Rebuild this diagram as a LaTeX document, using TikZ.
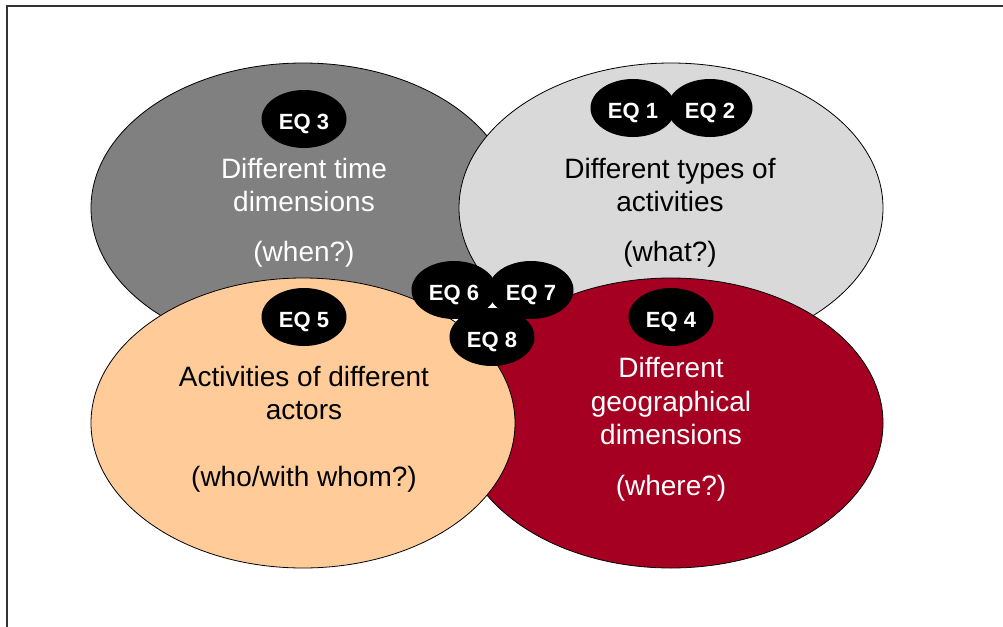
\documentclass[tikz,border=0pt]{standalone}
\usepackage{fontspec}
\setmainfont{Liberation Sans}
\usetikzlibrary{shapes.geometric}
\definecolor{timegrey}{HTML}{808080}
\definecolor{whatgrey}{HTML}{D9D9D9}
\definecolor{wherered}{HTML}{A50021}
\definecolor{whopeach}{HTML}{FFCC99}
\definecolor{framegrey}{HTML}{333333}
\begin{document}
\begin{tikzpicture}[x=1pt,y=-1pt,
  zone/.style={ellipse, draw=black, line width=0.8pt, minimum width=424pt,
    minimum height=290pt, inner sep=0pt},
  eq/.style={ellipse, fill=black, minimum width=85pt, minimum height=58pt,
    inner sep=0pt, text=white, text height=20pt, text depth=0pt,
    font=\fontsize{22}{24}\selectfont\bfseries},
  lbl/.style={anchor=base, inner sep=0pt, font=\fontsize{28}{33}\selectfont},
]
\useasboundingbox (0,0) rectangle (1003,626);

% outer frame (top and left edges)
\coordinate (fbl) at (7,640);
\coordinate (ftl) at (7,6);
\coordinate (ftr) at (1010,6);
\draw[framegrey, line width=1.5pt] (fbl) -- (ftl) -- (ftr);

% the four dimension ellipses
\node[zone, fill=timegrey] (when) at (303,208) {};
\node[zone, fill=whatgrey] (what) at (671,208) {};
\node[zone, fill=wherered] (where) at (671,423) {};
\node[zone, fill=whopeach] (who) at (303,423) {};

% labels: time
\node[lbl, text=white] (whenA) at (304,178) {Different time};
\node[lbl, text=white] (whenB) at (304,211) {dimensions};
\node[lbl, text=white] (whenC) at (304,261) {(when?)};
% labels: activities
\node[lbl] (whatA) at (670,178) {Different types of};
\node[lbl] (whatB) at (670,211) {activities};
\node[lbl] (whatC) at (670,261) {(what?)};
% labels: actors
\node[lbl] (whoA) at (304,386) {Activities of different};
\node[lbl] (whoB) at (304,419) {actors};
\node[lbl] (whoC) at (304,486) {(who/with whom?)};
% labels: geography
\node[lbl, text=white] (whereA) at (671,377) {Different};
\node[lbl, text=white] (whereB) at (671,411) {geographical};
\node[lbl, text=white] (whereC) at (671,444) {dimensions};
\node[lbl, text=white] (whereD) at (671,495) {(where?)};

% evaluation question markers
\node[eq] (eq3) at (304,119) {EQ 3};
\node[eq] (eq1) at (633,108) {EQ 1};
\node[eq] (eq2) at (710,108) {EQ 2};
\node[eq] (eq5) at (304,317) {EQ 5};
\node[eq] (eq4) at (671,317) {EQ 4};
\node[eq] (eq6) at (454,290) {EQ 6};
\node[eq] (eq7) at (531,290) {EQ 7};
\node[eq] (eq8) at (492,337) {EQ 8};
\end{tikzpicture}
\end{document}
